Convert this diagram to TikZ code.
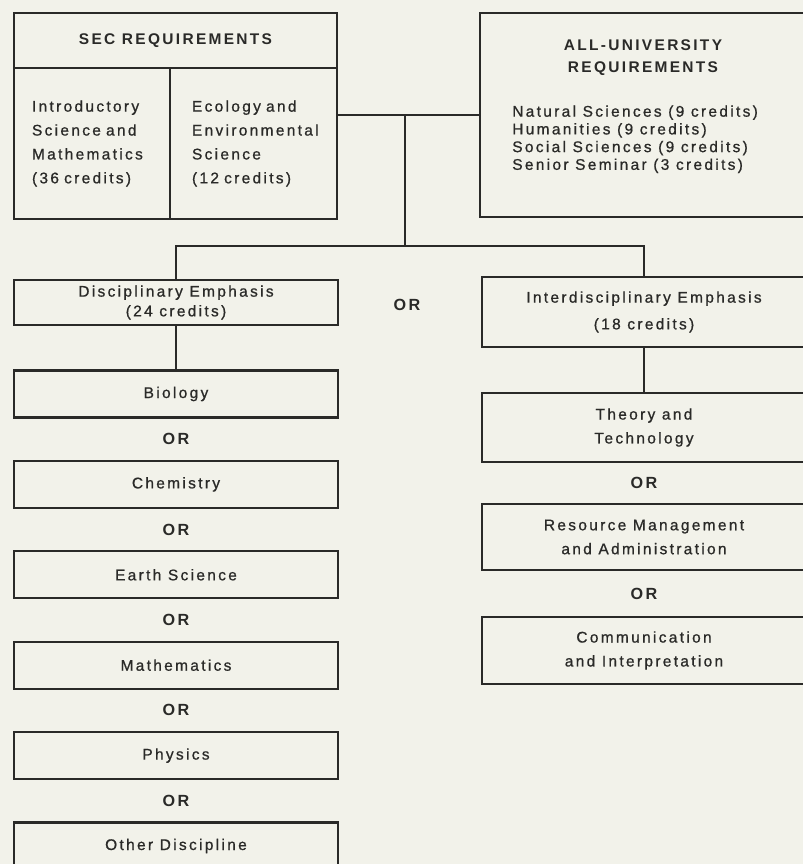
\documentclass[tikz,border=0pt]{standalone}
\usepackage{fontspec}
\setmainfont{Liberation Sans}[LetterSpace=15, UprightFeatures={FakeBold=0.8}]
\usetikzlibrary{calc}
\definecolor{paper}{RGB}{242,242,234}
\definecolor{ink}{RGB}{42,42,40}
\hyphenpenalty=10000
\exhyphenpenalty=10000

\begin{document}
\begin{tikzpicture}[
    box/.style={draw=ink, line width=1.6pt, text=ink, minimum width=8.1cm, inner sep=0pt, align=center, font=\fontsize{11}{17}\selectfont},
    head/.style={text=ink, inner sep=0pt, align=center, font=\fontsize{11}{15}\selectfont\bfseries},
    orlabel/.style={text=ink, inner sep=0pt, font=\fontsize{11.5}{13}\selectfont\bfseries},
    link/.style={draw=ink, line width=1.6pt}
  ]
        \path[use as bounding box, fill=paper] (0,0) rectangle (20.075,-21.6);

        % SEC requirements
        \node[box, minimum width=8.075cm, minimum height=1.375cm] (sechead) at (4.3875,-1.0125) {};
        \node[head] (sectitle) at (sechead) {SEC REQUIREMENTS};
        \node[box, minimum width=3.9cm, minimum height=3.775cm, text width=3cm, align=left] (intro) at (2.3,-3.5875) {Introductory\\Science and\\Mathematics\\(36 credits)};
        \node[box, minimum width=4.175cm, minimum height=3.775cm, text width=3.075cm, align=left] (ecol) at (6.3375,-3.5875) {Ecology and\\Environmental\\Science\\(12 credits)};

        % all-university requirements
        \node[box, minimum width=8.15cm, minimum height=5.1cm] (au) at (16.075,-2.875) {};
        \node[head, anchor=north] (autitle) at ($(au.north)+(0,-0.7)$) {ALL-UNIVERSITY\\REQUIREMENTS};
        \node[text=ink, inner sep=0pt, anchor=north west, align=left, font=\fontsize{11}{12.6}\selectfont] (aulist) at (12.8,-2.63) {Natural Sciences (9 credits)\\Humanities (9 credits)\\Social Sciences (9 credits)\\Senior Seminar (3 credits)};

        % the two emphases
        \node[box, minimum height=1.125cm] (disc) at (4.4,-7.5625) {Disciplinary Emphasis\\[-3pt](24 credits)};
        \node[orlabel] (ormid) at (10.175,-7.625) {OR};
        \node[box, minimum height=1.75cm] (inter) at (16.1,-7.8) {Interdisciplinary Emphasis\\[2pt](18 credits)};

        \coordinate (join) at ($(ecol.east |- au.west)!0.476!(au.west)$);
        \coordinate (split) at (join |- 0,-6.15);
        \draw[link] (ecol.east |- au.west) -- (au.west);
        \draw[link] (join) -- (split);
        \draw[link] (disc.north) |- (split) -| (inter.north);

        % disciplines
        \foreach \name [count=\i from 0] in {Biology, Chemistry, Earth Science, Mathematics, Physics, Other Discipline}
            \node[box, minimum height=1.175cm] (d\i) at (4.4,{-9.85-2.26*\i}) {\name};
        \foreach \i/\j in {0/1, 1/2, 2/3, 3/4, 4/5}
            \node[orlabel] (ord\i) at ($(d\i)!.5!(d\j)$) {OR};
        \draw[link] (disc.south) -- (d0.north);

        % interdisciplinary options
        \node[box, minimum height=1.725cm] (theory) at (16.1,-10.6875) {Theory and\\Technology};
        \node[box, minimum height=1.65cm] (resource) at (16.1,-13.425) {Resource Management\\and Administration};
        \node[box, minimum height=1.675cm] (comm) at (16.1,-16.2625) {Communication\\and Interpretation};
        \node[orlabel] (ori1) at ($(theory.south)!.5!(resource.north)$) {OR};
        \node[orlabel] (ori2) at ($(resource.south)!.5!(comm.north)$) {OR};
        \draw[link] (inter.south) -- (theory.north);
\end{tikzpicture}
\end{document}
